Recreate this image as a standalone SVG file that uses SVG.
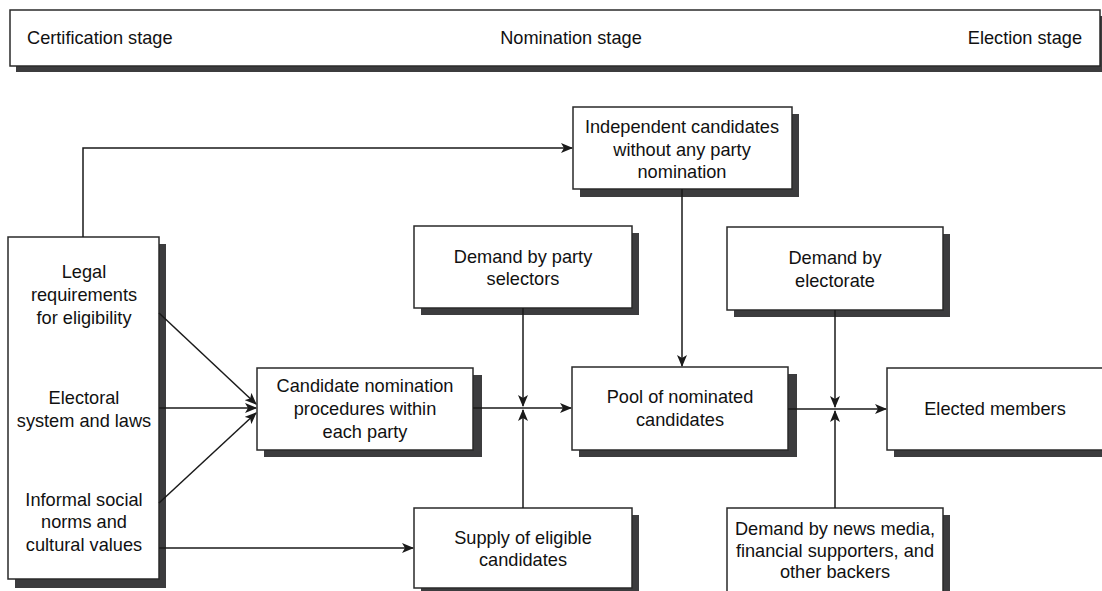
<svg xmlns="http://www.w3.org/2000/svg" width="1102" height="591" viewBox="0 0 1102 591">
<style>
.sh{fill:#3c3c3e;}
.bx{fill:#fff;stroke:#2a2a2a;stroke-width:1.5;}
.t{font-family:"Liberation Sans",Arial,sans-serif;font-size:18.2px;fill:#111;text-anchor:middle;}
.ts{font-family:"Liberation Sans",Arial,sans-serif;font-size:18.2px;fill:#111;}
.c{fill:none;stroke:#1a1a1a;stroke-width:1.5;}
</style>
<defs>
<marker id="ah" viewBox="0 0 12 10" refX="11" refY="5" markerWidth="12" markerHeight="10" markerUnits="userSpaceOnUse" orient="auto">
<path d="M0,0 L12,5 L0,10 L3,5 Z" fill="#1a1a1a"/>
</marker>
</defs>
<rect width="1102" height="591" fill="#fff"/>
<g id="stages">
<rect class="sh" x="16" y="16" width="1095" height="56"/>
<rect class="bx" x="10" y="10" width="1090" height="56"/>
<text class="ts" x="27" y="44">Certification stage</text>
<text class="t" x="571" y="44">Nomination stage</text>
<text class="ts" x="1082" y="44" text-anchor="end">Election stage</text>
</g>
<g id="factors">
<rect class="sh" x="15" y="244" width="151" height="344"/>
<rect class="bx" x="8" y="237" width="151" height="342"/>
<text class="t" x="84" y="278">Legal</text>
<text class="t" x="84" y="301">requirements</text>
<text class="t" x="84" y="324">for eligibility</text>
<text class="t" x="84" y="404">Electoral</text>
<text class="t" x="84" y="427">system and laws</text>
<text class="t" x="84" y="506">Informal social</text>
<text class="t" x="84" y="528">norms and</text>
<text class="t" x="84" y="551">cultural values</text>
</g>
<g id="independent">
<rect class="sh" x="580" y="114" width="219" height="83"/>
<rect class="bx" x="573" y="107" width="219" height="82"/>
<text class="t" x="682" y="133">Independent candidates</text>
<text class="t" x="682" y="156">without any party</text>
<text class="t" x="682" y="178">nomination</text>
</g>
<g id="party-selectors">
<rect class="sh" x="421" y="233" width="218" height="82"/>
<rect class="bx" x="414" y="226" width="218" height="82"/>
<text class="t" x="523" y="263">Demand by party</text>
<text class="t" x="523" y="285">selectors</text>
</g>
<g id="electorate">
<rect class="sh" x="734" y="234" width="216" height="83"/>
<rect class="bx" x="727" y="227" width="216" height="83"/>
<text class="t" x="835" y="264">Demand by</text>
<text class="t" x="835" y="287">electorate</text>
</g>
<g id="nomination-procedures">
<rect class="sh" x="264" y="375" width="218" height="82"/>
<rect class="bx" x="257" y="368" width="216" height="82"/>
<text class="t" x="365" y="392">Candidate nomination</text>
<text class="t" x="365" y="415">procedures within</text>
<text class="t" x="365" y="438">each party</text>
</g>
<g id="pool">
<rect class="sh" x="579" y="374" width="218" height="83"/>
<rect class="bx" x="572" y="367" width="216" height="83"/>
<text class="t" x="680" y="403">Pool of nominated</text>
<text class="t" x="680" y="426">candidates</text>
</g>
<g id="elected">
<rect class="sh" x="894" y="375" width="220" height="82"/>
<rect class="bx" x="887" y="368" width="220" height="82"/>
<text class="t" x="995" y="415">Elected members</text>
</g>
<g id="supply">
<rect class="sh" x="421" y="515" width="218" height="80"/>
<rect class="bx" x="414" y="508" width="218" height="80"/>
<text class="t" x="523" y="544">Supply of eligible</text>
<text class="t" x="523" y="566">candidates</text>
</g>
<g id="backers">
<rect class="sh" x="734" y="515" width="216" height="80"/>
<rect class="bx" x="727" y="508" width="216" height="84"/>
<text class="t" x="835" y="535">Demand by news media,</text>
<text class="t" x="835" y="557">financial supporters, and</text>
<text class="t" x="835" y="578">other backers</text>
</g>
<g id="connectors">
<path class="c" d="M83,237 V148 H572" marker-end="url(#ah)"/>
<path class="c" d="M159,313 L256,404" marker-end="url(#ah)"/>
<path class="c" d="M159,408 H256" marker-end="url(#ah)"/>
<path class="c" d="M159,503 L256,413" marker-end="url(#ah)"/>
<path class="c" d="M159,548 H413" marker-end="url(#ah)"/>
<path class="c" d="M473,408 H571" marker-end="url(#ah)"/>
<path class="c" d="M523,308 V406" marker-end="url(#ah)"/>
<path class="c" d="M523,508 V410" marker-end="url(#ah)"/>
<path class="c" d="M682,189 V366" marker-end="url(#ah)"/>
<path class="c" d="M788,409 H886" marker-end="url(#ah)"/>
<path class="c" d="M835,310 V407" marker-end="url(#ah)"/>
<path class="c" d="M835,508 V411" marker-end="url(#ah)"/>
</g>
</svg>
